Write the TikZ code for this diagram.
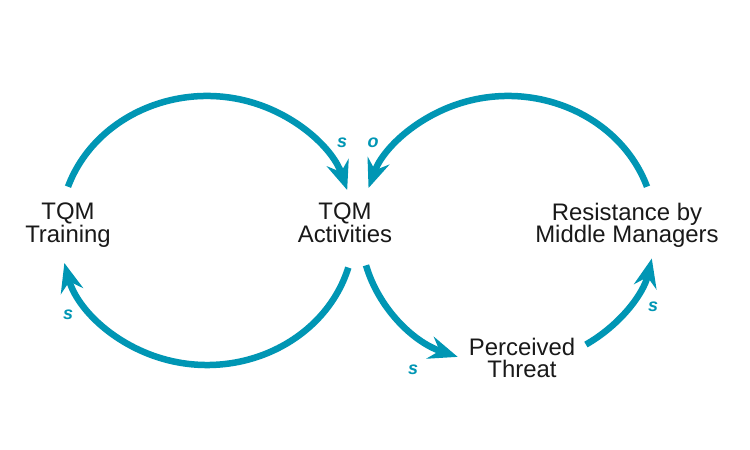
\documentclass[tikz,border=0pt]{standalone}
\usepackage{fontspec}
\setmainfont{Liberation Sans}
\usetikzlibrary{arrows.meta,calc}
\definecolor{loopteal}{RGB}{0,150,180}
\definecolor{ink}{RGB}{25,25,25}
\tikzset{
  loop/.style={draw=loopteal, line width=6.5bp,
    -{Stealth[length=29bp,width=23bp,inset=10bp]}},
  var/.style={align=center, inner sep=0pt, anchor=north, text=ink,
    font=\fontsize{24}{22.5}\selectfont},
  pol/.style={text=loopteal, inner sep=0pt, font=\fontsize{18}{18}\selectfont\bfseries\itshape}
}
\begin{document}
\begin{tikzpicture}[x=1bp,y=1bp]
\fill[white] (0,0) rectangle (750,450);
\useasboundingbox (0,0) rectangle (750,450);
% ellipse centres
\coordinate (lc) at (207,219.5);
\coordinate (rc) at (508,219.5);
% variables
\node[var] (train) at (68,247) {TQM\\Training};
\node[var] (act) at (345,247) {TQM\\Activities};
\node[var] (res) at (627,247.2) {Resistance by\\Middle Managers};
\node[var] (thr) at (522,112.2) {Perceived\\Threat};
% arc start points
\coordinate (a1) at ($(lc)+(161:147 and 134.5)$);
\coordinate (a2) at ($(lc)+(-16:147 and 134.5)$);
\coordinate (a3) at ($(rc)+(19:147 and 134.5)$);
\coordinate (a4) at ($(rc)+(-165:147 and 134.5)$);
\coordinate (a5) at ($(rc)+(-58:147 and 134.5)$);
% links
\draw[loop] (a1) arc[start angle=161, end angle=17.5, x radius=147, y radius=134.5];
\draw[loop] (a2) arc[start angle=-16, end angle=-166, x radius=147, y radius=134.5];
\draw[loop] (a3) arc[start angle=19, end angle=161.6, x radius=147, y radius=134.5];
\draw[loop] (a4) arc[start angle=-165, end angle=-110, x radius=147, y radius=134.5];
\draw[loop] (a5) arc[start angle=-58, end angle=-12, x radius=147, y radius=134.5];
% polarities
\node[pol] (p1) at (342,307) {s};
\node[pol] (p2) at (373,307) {o};
\node[pol] (p3) at (68,135) {s};
\node[pol] (p4) at (413,80) {s};
\node[pol] (p5) at (653,143) {s};
\end{tikzpicture}
\end{document}
